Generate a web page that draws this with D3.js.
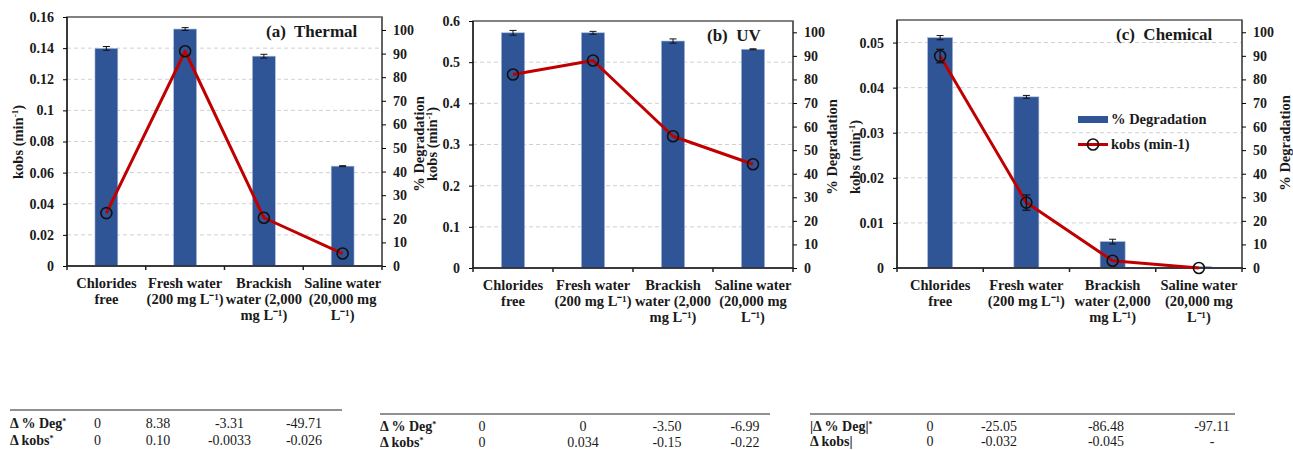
<!DOCTYPE html>
<html>
<head>
<meta charset="utf-8">
<script src="https://cdn.jsdelivr.net/npm/d3@7"></script>
<style>
  body { margin: 0; background: white; }
  svg { display: block; }
  text { font-family: "Liberation Serif", "Times New Roman", serif; fill: #1a1a1a; }
</style>
</head>
<body>
<svg id="svg" width="1293" height="450"></svg>
<script>
// categories (lines of each x label)
let categories = [
  ["Chlorides", "free"],
  ["Fresh water", "(200 mg L\u207B\u00B9)"],
  ["Brackish", "water (2,000", "mg L\u207B\u00B9)"],
  ["Saline water", "(20,000 mg", "L\u207B\u00B9)"]
];

// % degradation (bars, right axis)
let degThermal = [92.2, 100.4, 88.9, 42.3];
let degThermalErr = [0.8, 0.6, 0.8, 0.2];
let degUV = [99.8, 99.8, 96.3, 92.8];
let degUVErr = [1.0, 0.6, 0.9, 0.2];
let degChem = [97.7, 72.6, 11.2, 0.6];
let degChemErr = [0.9, 0.6, 1.0, 0];

// kobs (line, left axis)
let kobsThermal = [0.034, 0.138, 0.031, 0.008];
let kobsUV = [0.470, 0.504, 0.320, 0.252];
let kobsChem = [0.047, 0.0145, 0.0016, 0];
let kobsChemErr = [0.0015, 0.0017, 0, 0];

// tick values
let kobsTicksThermal = [0, 0.02, 0.04, 0.06, 0.08, 0.1, 0.12, 0.14, 0.16];
let kobsTicksUV = [0, 0.1, 0.2, 0.3, 0.4, 0.5, 0.6];
let kobsTicksChem = [0, 0.01, 0.02, 0.03, 0.04, 0.05];
let degTicks = [0, 10, 20, 30, 40, 50, 60, 70, 80, 90, 100];

// tables under the panels
let tableThermal = [
  ["\u0394 % Deg", "*", "0", "8.38", "-3.31", "-49.71"],
  ["\u0394 kobs", "*", "0", "0.10", "-0.0033", "-0.026"]
];
let tableUV = [
  ["\u0394 % Deg", "*", "0", "0", "-3.50", "-6.99"],
  ["\u0394 kobs", "*", "0", "0.034", "-0.15", "-0.22"]
];
let tableChem = [
  ["|\u0394 % Deg|", "*", "0", "-25.05", "-86.48", "-97.11"],
  ["\u0394 kobs|", "", "0", "-0.032", "-0.045", "-"]
];

let blue = "#2f5597";
let red = "#c00000";
let svg = d3.select("svg");

function kobsFormat(v) {
  return v === 0 ? "0" : String(+v.toFixed(3));
}

function axisTitle(x, y, txt) {
  let t = svg.append("text")
    .attr("transform", "translate(" + x + "," + y + ") rotate(-90)")
    .attr("text-anchor", "middle")
    .attr("dy", "0.35em")
    .style("font-weight", "bold")
    .style("font-size", "14.5px");
  if (txt.indexOf("kobs") === 0) {
    t.append("tspan").text("kobs (min");
    t.append("tspan").attr("baseline-shift", "super").style("font-size", "9px").text("-1");
    t.append("tspan").text(")");
  } else {
    t.text(txt);
  }
}

function panel(p) {
  let x = d3.scaleBand().domain(d3.range(4)).range([p.left, p.right]).paddingInner(0.71).paddingOuter(0.355);
  let band = d3.scaleBand().domain(d3.range(4)).range([p.left, p.right]);
  let yk = d3.scaleLinear().domain([0, p.kMax]).range([p.bottom, p.top]);
  let yd = d3.scaleLinear().domain([0, p.dMax]).range([p.bottom, p.top]);

  // gridlines
  svg.append("g").selectAll("line")
    .data(p.kTicks.filter(v => v > 0 && yk(v) > p.top + 3))
    .enter().append("line")
      .attr("x1", p.left).attr("x2", p.right)
      .attr("y1", d => yk(d)).attr("y2", d => yk(d))
      .attr("stroke", "#d0d0d0")
      .attr("stroke-dasharray", "4,3");

  // frame
  svg.append("rect")
    .attr("x", p.left).attr("y", p.top)
    .attr("width", p.right - p.left).attr("height", p.bottom - p.top)
    .attr("fill", "none")
    .attr("stroke", "#595959")
    .attr("stroke-width", 1.5);

  // bars
  svg.append("g").selectAll("rect")
    .data(p.deg)
    .enter().append("rect")
      .attr("x", (d, i) => x(i))
      .attr("width", x.bandwidth())
      .attr("y", d => yd(d))
      .attr("height", d => p.bottom - yd(d))
      .attr("fill", blue)
      .attr("stroke", "#aab8d8")
      .attr("stroke-width", 0.6);

  // bar error bars
  let eb = svg.append("g").attr("stroke", "#111").attr("stroke-width", 1);
  p.deg.forEach((d, i) => {
    let e = p.degErr[i];
    if (!e) return;
    let cx = x(i) + x.bandwidth() / 2;
    eb.append("line").attr("x1", cx).attr("x2", cx).attr("y1", yd(d + e)).attr("y2", yd(d - e));
    eb.append("line").attr("x1", cx - 3.5).attr("x2", cx + 3.5).attr("y1", yd(d + e)).attr("y2", yd(d + e));
    eb.append("line").attr("x1", cx - 3.5).attr("x2", cx + 3.5).attr("y1", yd(d - e)).attr("y2", yd(d - e));
  });

  // left axis
  let la = svg.append("g")
    .attr("transform", "translate(" + p.left + ",0)")
    .call(d3.axisLeft(yk).tickValues(p.kTicks).tickFormat(kobsFormat).tickSizeInner(4).tickSizeOuter(0).tickPadding(9));
  la.select(".domain").attr("stroke", "#222").attr("stroke-width", 1.5).attr("d", "M0," + p.top + "V" + p.bottom);
  la.selectAll("text").style("font-family", "Liberation Serif").style("font-weight", "bold").style("font-size", "14px").attr("fill", "#1a1a1a");

  // right axis
  let ra = svg.append("g")
    .attr("transform", "translate(" + p.right + ",0)")
    .call(d3.axisRight(yd).tickValues(degTicks).tickSizeInner(4).tickSizeOuter(0).tickPadding(7));
  ra.select(".domain").attr("stroke", "#595959").attr("stroke-width", 1.5).attr("d", "M0," + p.top + "V" + p.bottom);
  ra.selectAll("text").style("font-family", "Liberation Serif").style("font-weight", "bold").style("font-size", "14px").attr("fill", "#1a1a1a");

  // bottom axis with ticks between categories
  let bx = svg.append("g").attr("stroke", "#222").attr("stroke-width", 1.5);
  bx.append("line").attr("x1", p.left - 1).attr("x2", p.right + 1).attr("y1", p.bottom).attr("y2", p.bottom);
  d3.range(5).forEach(i => {
    let xx = p.left + i * band.bandwidth();
    bx.append("line").attr("x1", xx).attr("x2", xx).attr("y1", p.bottom).attr("y2", p.bottom + 4);
  });

  // category labels
  categories.forEach((lines, i) => {
    let t = svg.append("text")
      .attr("text-anchor", "middle")
      .style("font-weight", "bold")
      .style("font-size", "14.5px");
    lines.forEach((l, j) => {
      t.append("tspan")
        .attr("x", band(i) + band.bandwidth() / 2)
        .attr("y", p.bottom + 22 + j * 16)
        .text(l);
    });
  });

  // kobs line
  let line = d3.line().x((d, i) => band(i) + band.bandwidth() / 2).y(d => yk(d));
  svg.append("path")
    .datum(p.kobs)
    .attr("fill", "none")
    .attr("stroke", red)
    .attr("stroke-width", 3)
    .attr("stroke-linejoin", "round")
    .attr("d", line);

  if (p.kobsErr) {
    let ke = svg.append("g").attr("stroke", "#111").attr("stroke-width", 1.2);
    p.kobs.forEach((d, i) => {
      let e = p.kobsErr[i];
      if (!e) return;
      let cx = band(i) + band.bandwidth() / 2;
      ke.append("line").attr("x1", cx).attr("x2", cx).attr("y1", yk(d + e)).attr("y2", yk(d - e));
      ke.append("line").attr("x1", cx - 4).attr("x2", cx + 4).attr("y1", yk(d + e)).attr("y2", yk(d + e));
      ke.append("line").attr("x1", cx - 4).attr("x2", cx + 4).attr("y1", yk(d - e)).attr("y2", yk(d - e));
    });
  }

  svg.append("g").selectAll("circle")
    .data(p.kobs)
    .enter().append("circle")
      .attr("cx", (d, i) => band(i) + band.bandwidth() / 2)
      .attr("cy", d => yk(d))
      .attr("r", 5.5)
      .attr("fill", "none")
      .attr("stroke", "#111")
      .attr("stroke-width", 1.6);

  // panel title
  svg.append("text")
    .attr("x", p.titleX).attr("y", p.titleY)
    .style("font-weight", "bold")
    .style("font-size", "17px")
    .attr("xml:space", "preserve")
    .text(p.title);
}

function table(rows, t) {
  svg.append("line")
    .attr("x1", t.x1).attr("x2", t.x2)
    .attr("y1", t.lineY).attr("y2", t.lineY)
    .attr("stroke", "#222").attr("stroke-width", 1);
  rows.forEach((r, j) => {
    let y = t.rowY[j];
    let lab = svg.append("text")
      .attr("x", t.x1).attr("y", y)
      .style("font-weight", "bold")
      .style("font-size", "14px");
    lab.append("tspan").text(r[0]);
    if (r[1]) lab.append("tspan").attr("baseline-shift", "super").style("font-size", "8px").text(r[1]);
    r.slice(2).forEach((v, k) => {
      svg.append("text")
        .attr("x", t.cols[k]).attr("y", y)
        .attr("text-anchor", "middle")
        .style("font-size", "14px")
        .text(v);
    });
  });
}

panel({ left: 67, right: 382, top: 17, bottom: 266, kMax: 0.16, dMax: 105.5,
  kTicks: kobsTicksThermal, deg: degThermal, degErr: degThermalErr, kobs: kobsThermal,
  title: "(a)  Thermal", titleX: 266, titleY: 37 });
panel({ left: 473, right: 793, top: 21, bottom: 268, kMax: 0.6, dMax: 104.8,
  kTicks: kobsTicksUV, deg: degUV, degErr: degUVErr, kobs: kobsUV,
  title: "(b)  UV", titleX: 707, titleY: 41 });
panel({ left: 897, right: 1242, top: 20, bottom: 268, kMax: 0.055, dMax: 105.2,
  kTicks: kobsTicksChem, deg: degChem, degErr: degChemErr, kobs: kobsChem, kobsErr: kobsChemErr,
  title: "(c)  Chemical", titleX: 1116, titleY: 40 });

axisTitle(18, 142, "kobs");
axisTitle(419, 144, "% Degradation");
axisTitle(432, 144, "kobs");
axisTitle(832, 147, "% Degradation");
axisTitle(855, 157, "kobs");
axisTitle(1285, 143, "% Degradation");

// legend in panel (c)
let lg = svg.append("g");
lg.append("rect").attr("x", 1078).attr("y", 116).attr("width", 30).attr("height", 7).attr("fill", blue);
lg.append("text").attr("x", 1111).attr("y", 124).style("font-weight", "bold").style("font-size", "14.5px").text("% Degradation");
lg.append("line").attr("x1", 1078).attr("x2", 1108).attr("y1", 144.5).attr("y2", 144.5).attr("stroke", red).attr("stroke-width", 3);
lg.append("circle").attr("cx", 1093).attr("cy", 144.5).attr("r", 5.5).attr("fill", "none").attr("stroke", "#111").attr("stroke-width", 1.6);
lg.append("text").attr("x", 1111).attr("y", 149).style("font-weight", "bold").style("font-size", "14.5px").text("kobs (min-1)");

table(tableThermal, { x1: 10, x2: 342, lineY: 410, rowY: [428, 445], cols: [97.5, 158, 229.5, 304] });
table(tableUV, { x1: 380, x2: 770, lineY: 414, rowY: [431, 447], cols: [482, 583, 667, 745] });
table(tableChem, { x1: 810, x2: 1235, lineY: 414, rowY: [431, 446], cols: [930, 999, 1106, 1212] });
</script>
</body>
</html>
